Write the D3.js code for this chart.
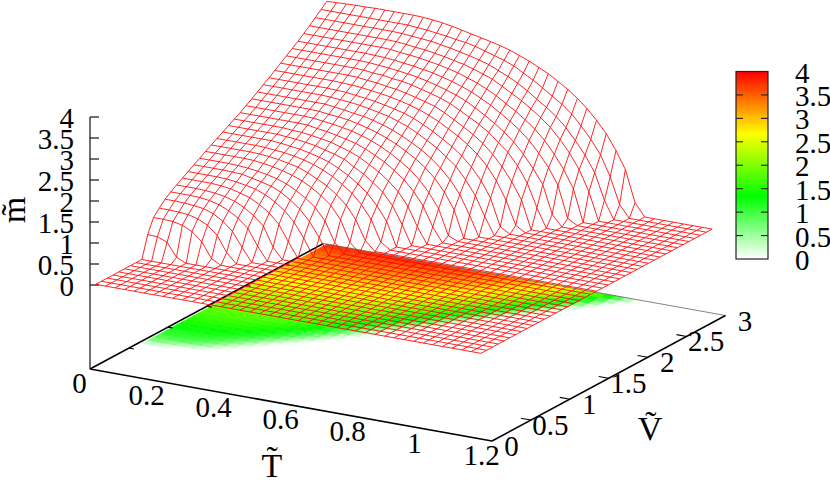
<!DOCTYPE html>
<html><head><meta charset="utf-8">
<script src="https://cdn.jsdelivr.net/npm/d3@7"></script>
<style>html,body{margin:0;padding:0;background:#fff}svg{display:block}text{font-family:"Liberation Serif",serif;fill:#000}</style>
</head><body><svg id="c" width="830" height="480"></svg>
<script>
const tGrid=[.01,.039,.068,.096,.125,.154,.183,.211,.24,.269,.298,.326,.355,.384,.413,.441,.47,.499,.528,.556,.585,.614,.643,.671,.70,.729,.758,.786,.815,.844,.873,.901,.93,.959,.988,1.016,1.045,1.074,1.103,1.131,1.16];
const vGrid=[.03,.104,.179,.253,.327,.401,.476,.55,.624,.698,.773,.847,.921,.995,1.07,1.144,1.218,1.292,1.367,1.441,1.515,1.589,1.664,1.738,1.812,1.886,1.961,2.035,2.109,2.183,2.258,2.332,2.406,2.48,2.555,2.629,2.703,2.777,2.852,2.926,3.0];
// m values per V row, from T = 0.01 upward; cells past the end of a row are on the flat m = 0 sheet
const mRows=[[],[],[],[],[],[],[],[],[],
[.52,.51,.42,.10],
[.85,.85,.84,.79,.68,.48,.12],
[1,1,.99,.97,.91,.80,.60,.23],
[1.14,1.14,1.13,1.11,1.08,1.00,.86,.66,.32],
[1.24,1.24,1.24,1.23,1.20,1.14,1.04,.90,.70,.32],
[1.33,1.33,1.33,1.32,1.30,1.26,1.19,1.08,.93,.72,.26],
[1.42,1.42,1.42,1.42,1.40,1.37,1.31,1.24,1.12,.96,.73,.36],
[1.5,1.5,1.5,1.5,1.49,1.46,1.42,1.37,1.28,1.15,.98,.75,.41],
[1.59,1.59,1.59,1.59,1.58,1.57,1.52,1.47,1.41,1.31,1.16,.99,.73,.39],
[1.67,1.67,1.67,1.67,1.66,1.64,1.61,1.57,1.51,1.43,1.31,1.17,.99,.71,.24],
[1.76,1.76,1.76,1.76,1.76,1.75,1.72,1.68,1.63,1.56,1.47,1.35,1.20,1.01,.71,.21],
[1.84,1.84,1.84,1.84,1.84,1.83,1.81,1.78,1.73,1.68,1.59,1.48,1.36,1.19,.98,.68,.22],
[1.92,1.92,1.92,1.92,1.92,1.91,1.89,1.87,1.83,1.78,1.71,1.62,1.51,1.36,1.19,.96,.65,.15],
[2,2,2,2,2,2,1.98,1.95,1.92,1.87,1.81,1.74,1.63,1.50,1.34,1.16,.90,.57],
[2.08,2.08,2.08,2.08,2.08,2.08,2.06,2.04,2.01,1.97,1.91,1.85,1.77,1.63,1.50,1.34,1.15,.87,.46],
[2.16,2.16,2.16,2.16,2.16,2.16,2.14,2.13,2.10,2.06,2.02,1.95,1.88,1.78,1.65,1.52,1.34,1.13,.82,.38],
[2.24,2.24,2.24,2.24,2.24,2.24,2.24,2.23,2.19,2.16,2.11,2.06,2.00,1.91,1.80,1.68,1.52,1.34,1.10,.80,.34],
[2.33,2.33,2.33,2.33,2.33,2.33,2.33,2.32,2.29,2.26,2.22,2.18,2.11,2.03,1.93,1.81,1.67,1.51,1.30,1.04,.70,.10],
[2.42,2.42,2.42,2.42,2.42,2.42,2.42,2.41,2.38,2.36,2.33,2.28,2.22,2.15,2.06,1.96,1.83,1.69,1.52,1.31,1.02,.64],
[2.51,2.51,2.51,2.51,2.51,2.51,2.51,2.51,2.48,2.45,2.41,2.38,2.33,2.26,2.18,2.08,1.96,1.83,1.67,1.48,1.24,.93,.48],
[2.61,2.61,2.61,2.61,2.61,2.61,2.61,2.60,2.58,2.56,2.53,2.49,2.44,2.39,2.31,2.23,2.11,1.98,1.84,1.67,1.49,1.21,.87,.42],
[2.70,2.70,2.70,2.70,2.70,2.70,2.70,2.69,2.68,2.65,2.62,2.59,2.54,2.49,2.43,2.35,2.24,2.12,1.98,1.84,1.66,1.44,1.15,.78,.14],
[2.80,2.80,2.80,2.80,2.80,2.80,2.80,2.79,2.78,2.76,2.73,2.70,2.66,2.61,2.55,2.48,2.39,2.28,2.15,2.02,1.86,1.67,1.43,1.12,.70,.14],
[2.90,2.90,2.90,2.90,2.90,2.90,2.90,2.90,2.89,2.86,2.84,2.80,2.77,2.72,2.66,2.60,2.53,2.42,2.29,2.16,2.02,1.85,1.63,1.38,1.06,.67],
[3,3,3,3,3,3,3,3,2.99,2.96,2.95,2.91,2.89,2.84,2.78,2.72,2.65,2.56,2.44,2.32,2.19,2.04,1.84,1.65,1.37,1.00,.45],
[3.10,3.10,3.10,3.10,3.10,3.10,3.10,3.10,3.09,3.07,3.05,3.02,2.99,2.95,2.90,2.84,2.77,2.69,2.59,2.47,2.33,2.18,2.01,1.82,1.57,1.27,.93,.26],
[3.20,3.20,3.20,3.20,3.20,3.20,3.20,3.20,3.19,3.18,3.16,3.13,3.10,3.06,3.02,2.96,2.90,2.82,2.73,2.62,2.50,2.35,2.20,2.03,1.82,1.56,1.26,.88,.13],
[3.31,3.31,3.31,3.31,3.31,3.31,3.31,3.31,3.31,3.30,3.27,3.25,3.22,3.18,3.14,3.09,3.03,2.95,2.87,2.77,2.65,2.50,2.36,2.20,2.02,1.79,1.50,1.18,.76],
[3.42,3.42,3.42,3.42,3.42,3.42,3.42,3.42,3.42,3.41,3.39,3.36,3.34,3.30,3.26,3.21,3.16,3.09,3.01,2.93,2.80,2.67,2.54,2.39,2.22,2.03,1.78,1.50,1.15,.66],
[3.54,3.54,3.54,3.54,3.54,3.54,3.54,3.54,3.54,3.53,3.51,3.49,3.47,3.43,3.39,3.34,3.29,3.23,3.16,3.06,2.96,2.84,2.70,2.54,2.39,2.21,1.99,1.72,1.42,1.04,.42],
[3.66,3.66,3.66,3.66,3.66,3.66,3.66,3.66,3.66,3.66,3.64,3.62,3.59,3.56,3.52,3.49,3.44,3.37,3.30,3.23,3.14,3.01,2.88,2.74,2.58,2.43,2.24,2.00,1.72,1.39,.91,.29],
[3.78,3.79,3.80,3.81,3.81,3.82,3.82,3.82,3.82,3.82,3.81,3.79,3.76,3.72,3.67,3.62,3.57,3.52,3.46,3.40,3.31,3.22,3.11,3.00,2.86,2.71,2.54,2.34,2.10,1.82,1.46,1.05,.30]
];
const tTicks=[0,.2,.4,.6,.8,1,1.2];
const vTicks=[0,.5,1,1.5,2,2.5,3];
const mTicks=[0,.5,1,1.5,2,2.5,3,3.5,4];
const paletteStops=[0,4/3,8/3,4];
const paletteColors=["#ffffff","#00ff00","#ffff00","#ff0000"];

const svg=d3.select("#c");
const tx=d3.scaleLinear([0,1.2],[0,402]), ty=d3.scaleLinear([0,1.2],[0,72]);
const vx=d3.scaleLinear([0,3],[0,233.5]), vy=d3.scaleLinear([0,3],[0,-125.5]);
const mz=d3.scaleLinear([0,4],[285,117]);
const x0=90, baseY=369;
const colour=d3.scaleLinear(paletteStops,paletteColors).clamp(true);
const cby=d3.scaleLinear([0,4],[259,71.5]);
const mAt=(i,j)=>{const v=mRows[i][j];return v===undefined?0:v;};
const base=(t,v)=>[x0+tx(t)+vx(v),baseY+ty(t)+vy(v)];
const surf=(t,v,m)=>[x0+tx(t)+vx(v),mz(m)+ty(t)+vy(v)];

// coloured map on the base plane
const gMap=svg.append("g");
const cells=[];
for(let i=0;i<vGrid.length-1;i++)for(let j=0;j<tGrid.length-1;j++){
  const m=d3.mean([mAt(i,j),mAt(i+1,j),mAt(i,j+1),mAt(i+1,j+1)]);
  if(m>0)cells.push({i,j,m});
}
gMap.selectAll("path").data(cells).join("path")
 .attr("d",c=>"M"+[base(tGrid[c.j],vGrid[c.i]),base(tGrid[c.j+1],vGrid[c.i]),base(tGrid[c.j+1],vGrid[c.i+1]),base(tGrid[c.j],vGrid[c.i+1])].map(p=>p.join(",")).join("L")+"Z")
 .attr("fill",c=>colour(c.m)).attr("stroke",c=>colour(c.m)).attr("stroke-width",.5);

// axes
const gAxes=svg.append("g").attr("fill","none");
const seg=(a,b,w,col)=>gAxes.append("line").attr("x1",a[0]).attr("y1",a[1]).attr("x2",b[0]).attr("y2",b[1]).attr("stroke",col||"#000").attr("stroke-width",w);
seg(base(1.2,3),base(0,3),.8,"#666");
seg(base(0,0),base(0,3),1.5);
seg(base(0,0),base(1.2,0),1.5);
seg(base(1.2,0),base(1.2,3),1.5);
seg([x0,mz(4)],[x0,baseY],1.3,"#222");
mTicks.forEach(m=>seg([x0,mz(m)],[x0+9,mz(m)],1.3,"#222"));
vTicks.slice(1,-1).forEach(v=>{
  seg(base(1.2,v),base(1.17,v),1.1);
  seg(base(0,v),base(.015,v),1.1);
});

// wire mesh
const line=d3.line();
const gWire=svg.append("g").attr("fill","none").attr("stroke","#ff0000").attr("stroke-width",.85);
vGrid.forEach((v,i)=>gWire.append("path").attr("d",line(tGrid.map((t,j)=>surf(t,v,mAt(i,j))))));
tGrid.forEach((t,j)=>gWire.append("path").attr("d",line(vGrid.map((v,i)=>surf(t,v,mAt(i,j))))));

// tick labels
const gText=svg.append("g").attr("font-size",29).attr("text-anchor","middle").attr("dominant-baseline","central");
mTicks.forEach(m=>gText.append("text").attr("x",74).attr("y",mz(m)+1).attr("text-anchor","end").text(m));
tTicks.forEach(t=>{const p=base(t,0);gText.append("text").attr("x",p[0]-10.5).attr("y",p[1]+13.5).text(t);});
vTicks.forEach(v=>{const p=base(1.2,v);gText.append("text").attr("x",p[0]+19.5).attr("y",p[1]+5).text(v);});

// axis titles
svg.append("text").attr("font-size",34).attr("text-anchor","middle").attr("x",272).attr("y",477).text("T\u0303");
svg.append("text").attr("font-size",34).attr("text-anchor","middle").attr("x",650).attr("y",440).text("V\u0303");
svg.append("text").attr("font-size",34).attr("text-anchor","middle").attr("transform","translate(25,210) rotate(-90)").text("m\u0303");

// colour box
const defs=svg.append("defs");
const grad=defs.append("linearGradient").attr("id","pal").attr("x1",0).attr("x2",0).attr("y1",1).attr("y2",0);
paletteStops.forEach((s,i)=>grad.append("stop").attr("offset",s/4).attr("stop-color",paletteColors[i]));
svg.append("rect").attr("x",736).attr("y",cby(4)).attr("width",32).attr("height",cby(0)-cby(4)).attr("fill","url(#pal)").attr("stroke","#222").attr("stroke-width",1.2);
const gCb=svg.append("g").attr("stroke","#222").attr("stroke-width",1.1);
mTicks.slice(1,-1).forEach(m=>{
  gCb.append("line").attr("x1",736).attr("x2",743).attr("y1",cby(m)).attr("y2",cby(m));
  gCb.append("line").attr("x1",761).attr("x2",768).attr("y1",cby(m)).attr("y2",cby(m));
});
mTicks.forEach(m=>gText.append("text").attr("x",795).attr("y",cby(m)+1).attr("text-anchor","start").text(m));
</script></body></html>
